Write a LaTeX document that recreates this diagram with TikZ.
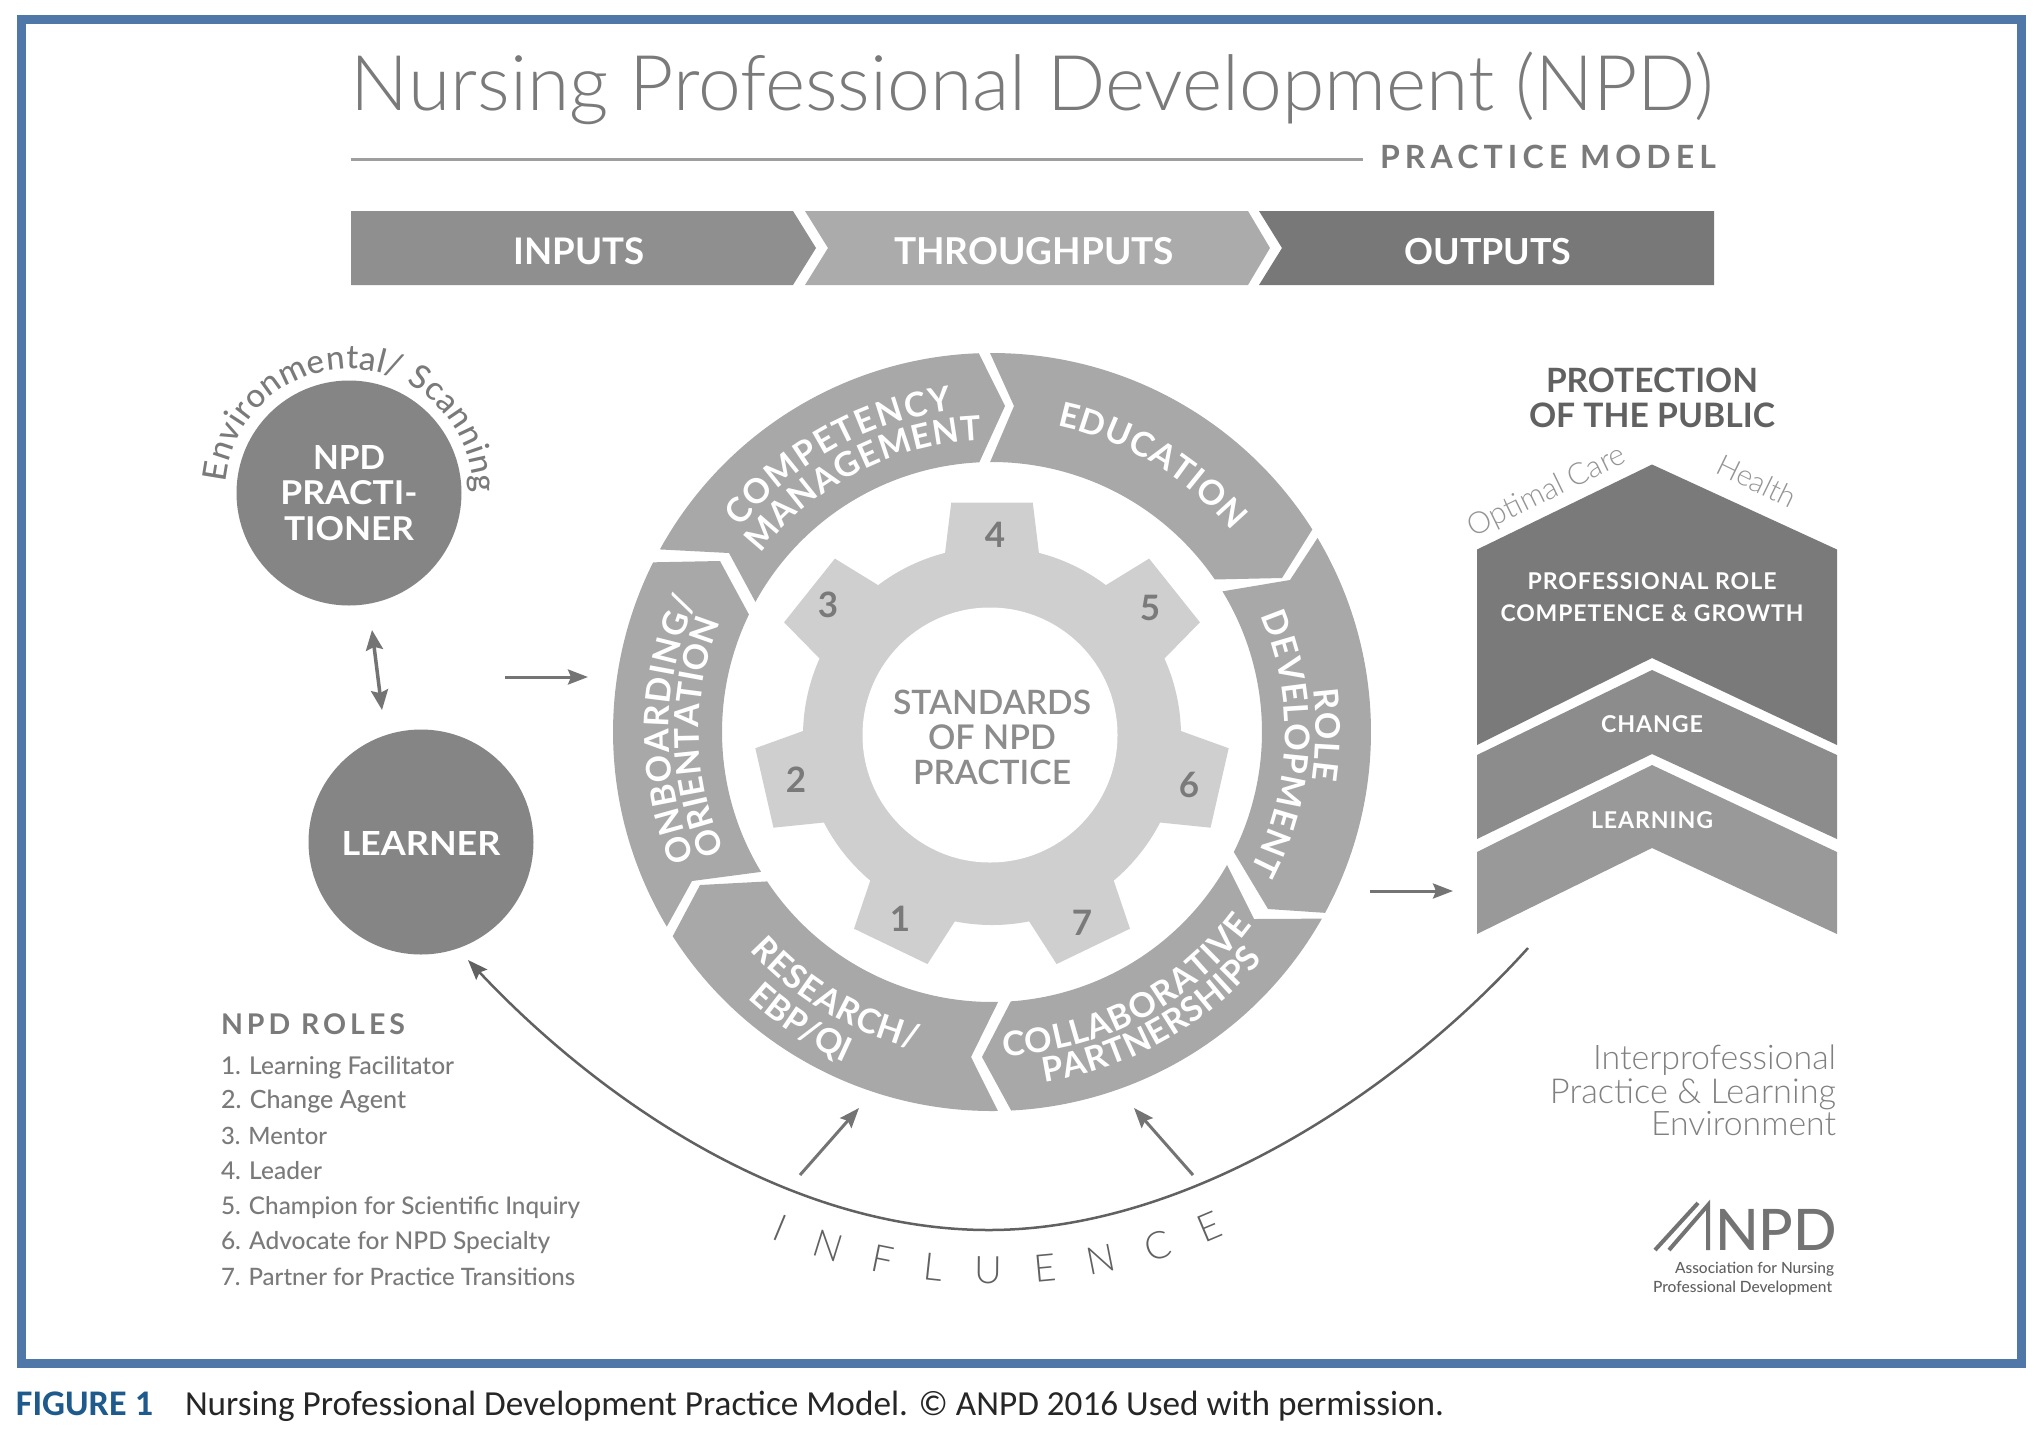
\documentclass[tikz,border=0pt]{standalone}
\usepackage{fontspec}
\usepackage{graphicx}
\usetikzlibrary{calc,arrows.meta,decorations.text}
\setmainfont{Lato}
\IfFontExistsTF{Lato Light}{\newfontfamily\lfl{Lato Light}}{\newfontfamily\lfl{Lato}}
\IfFontExistsTF{Lato Medium}{\newfontfamily\lfm{Lato Medium}}{\newfontfamily\lfm{Lato}}
\IfFontExistsTF{Lato Semibold}{\newfontfamily\lfs{Lato Semibold}}{\newfontfamily\lfs{Lato}}
\newfontfamily\lfb{Lato Bold}
\newfontfamily\capf{Carlito}
\newcommand\fsz[1]{\fontsize{#1}{#1}\selectfont}
\newcommand\fw[2]{\resizebox{#1pt}{!}{#2}}
\newcommand\fwh[3]{\resizebox{#1pt}{#2pt}{#3}}
\definecolor{bluebd}{HTML}{4F78A9}
\definecolor{ringc}{HTML}{A8A8A8}
\definecolor{gearc}{HTML}{CFCFCF}
\definecolor{txtg}{HTML}{7A7A7A}
\definecolor{arrg}{HTML}{747474}
\definecolor{figblue}{HTML}{1E5A8C}
\tikzset{
 lbl/.style={inner sep=0pt,outer sep=0pt,anchor=base},
 wlbl/.style={lbl,text=white},
 glbl/.style={lbl,text=txtg},
 ringseg/.style={fill=ringc,draw=none},
 roundn/.style={circle,fill=#1,draw=none,minimum size=225pt,inner sep=0pt},
 arw/.style={draw=arrg,line width=3pt,-{Stealth[length=20pt,width=15pt,inset=3pt]}},
 bothw/.style={draw=arrg,line width=3.5pt,{Stealth[length=20pt,width=17pt,inset=3pt]}-{Stealth[length=20pt,width=17pt,inset=3pt]}},
 curvet/.style={decorate,decoration={text along path,text={#1},text align={fit to path}}},
}
\newcommand\seg[6]{\fill[ringseg] ($(C)+(#1:379pt)$) arc[start angle=#1,end angle=#2,radius=379pt] -- (#3) -- ($(C)+(#4:270pt)$) arc[start angle=#4,end angle=#5,radius=270pt] -- (#6) -- cycle;}
\newcommand\rtxt[4]{\path[curvet={|\lfb\fsz{34}\color{white}|#4}] ($(C)+(#1:#3pt)$) arc[start angle=#1,end angle=#2,radius=#3pt];}
\begin{document}
\begin{tikzpicture}[x=1pt,y=-1pt]
\useasboundingbox (0,0) rectangle (2040,1436);
\fill[white] (0,0) rectangle (2040,1436);
\draw[bluebd,line width=9pt] (21,19.5) rectangle (2021,1363.5);
% title
\node[glbl,text=black!52] (title) at (1032.5,110) {\fw{1363}{\lfl\fsz{76}Nursing Professional Development (NPD)}};
\coordinate (ruleA) at (351,159); \coordinate (ruleB) at (1363,159);
\draw[black!38,line width=3pt] (ruleA) -- (ruleB);
\node[glbl] (pm) at (1548,168) {\fw{336}{\lfb\fsz{30}\addfontfeature{LetterSpace=16}PRACTICE MODEL}};
% band
\fill[black!44] (351,211) -- (793,211) -- (816,248) -- (793,285) -- (351,285) -- cycle;
\fill[black!33] (805,211) -- (1248,211) -- (1270,248) -- (1248,285) -- (805,285) -- (828,248) -- cycle;
\fill[black!53] (1259,211) -- (1714,211) -- (1714,285) -- (1259,285) -- (1282,248) -- cycle;
\node[wlbl] (inp) at (579,264) {\fw{131}{\lfb\fsz{34}INPUTS}};
\node[wlbl] (thr) at (1034,264) {\fw{280}{\lfb\fsz{34}THROUGHPUTS}};
\node[wlbl] (out) at (1488,264) {\fw{167}{\lfb\fsz{34}OUTPUTS}};
% circles
\node[roundn=black!48] (npd) at (349,493) {};
\node[roundn=black!48] (lrn) at (421,842) {};
\node[wlbl] (n1) at (349,469) {\fwh{72}{24}{\lfb\fsz{32}NPD}};
\node[wlbl] (n2) at (349,504) {\fwh{137}{24}{\lfb\fsz{32}PRACTI-}};
\node[wlbl] (n3) at (349,540) {\fwh{130}{24}{\lfb\fsz{32}TIONER}};
\node[wlbl] (l1) at (421,855) {\fwh{159}{24}{\lfb\fsz{32}LEARNER}};
\path[curvet={|\lfm\fsz{33}\color{txtg}|Environmental/ Scanning}] ($(npd.center)+(175:124pt)$) arc[start angle=175,end angle=0,radius=124pt];
\coordinate (dA) at (372,630); \coordinate (dB) at (382,710);
\draw[bothw] (dA) -- (dB);
\coordinate (iA) at (505,677); \coordinate (iB) at (588,677);
\draw[arw] (iA) -- (iB);
\coordinate (oA) at (1370,891); \coordinate (oB) at (1453,891);
\draw[arw] (oA) -- (oB);
% ring
\coordinate (C) at (992,732);
\seg{151.2}{92}{1005,406}{92.7}{151.2}{729,553}
\seg{90.3}{32.3}{1282,578}{34.4}{90.4}{1014,406}
\seg{30.8}{-28.5}{1268,909}{-26.4}{31.4}{1290,580}
\seg{-29.5}{-87.1}{982,1057}{-86}{-29.5}{1254,919}
\seg{-89.1}{-147.4}{700,885}{-146.4}{-88.7}{971,1057}
\seg{-149.1}{-206.6}{720,561}{-205.8}{-148.8}{692,881}
\rtxt{141}{97}{324}{COMPETENCY}
\rtxt{142.5}{92}{292}{MANAGEMENT}
\rtxt{78}{40}{313}{EDUCATION}
\rtxt{203}{156}{323}{ONBOARDING/}
\rtxt{204}{158}{293}{ORIENTATION}
\rtxt{7.5}{-8.5}{324}{ROLE}
\rtxt{23.5}{-28}{293}{DEVELOPMENT}
\rtxt{-138}{-103.5}{326}{RESEARCH/}
\rtxt{-132.5}{-114}{362}{EBP/QI}
\rtxt{-88}{-36.5}{324}{COLLABORATIVE}
\rtxt{-81.5}{-40}{354}{PARTNERSHIPS}
% gear
\coordinate (G) at (992,736);
\fill[gearc] (G) circle[radius=189pt];
\foreach \a in {90,38.57,-12.86,-64.29,-115.71,192.86,141.43}{
  \fill[gearc] ($(G)+(\a+14.5:188pt)$) -- ($(G)+(\a+9.9:237pt)$) -- ($(G)+(\a-9.9:237pt)$) -- ($(G)+(\a-14.5:188pt)$) -- cycle;
}
\fill[white] (990,735) circle[radius=127.5pt];
\foreach \n/\x/\y in {4/995/535,5/1150/608,6/1189/785,7/1082/923,1/900/919,2/796/780,3/828/605}{
  \node[inner sep=0pt,text=black!52,font=\lfb\fsz{35}] (g\n) at (\x,\y) {\n};
}
\node[glbl,text=black!45] (s1) at (992,714) {\fw{198}{\lfs\fsz{32}STANDARDS}};
\node[glbl,text=black!45] (s2) at (992,749) {\fw{128}{\lfs\fsz{32}OF NPD}};
\node[glbl,text=black!45] (s3) at (992,784) {\fw{158}{\lfs\fsz{32}PRACTICE}};
% chevrons
\fill[black!52] (1477,549.5) -- (1652,464.5) -- (1837,549.5) -- (1837,745) -- (1652,658) -- (1477,745) -- cycle;
\fill[black!45] (1477,755) -- (1652,670) -- (1837,755) -- (1837,839) -- (1652,754) -- (1477,839) -- cycle;
\fill[black!40] (1477,852) -- (1652,765) -- (1837,852) -- (1837,934) -- (1652,848) -- (1477,934) -- cycle;
\node[glbl,text=black!62] (p1) at (1652,392) {\fw{212}{\lfb\fsz{34}PROTECTION}};
\node[glbl,text=black!62] (p2) at (1652,427) {\fw{246}{\lfb\fsz{34}OF THE PUBLIC}};
\node[wlbl] (c1) at (1652,589) {\fw{249}{\lfb\fsz{24}\addfontfeature{LetterSpace=4}PROFESSIONAL ROLE}};
\node[wlbl] (c2) at (1652,621) {\fw{303}{\lfb\fsz{24}\addfontfeature{LetterSpace=4}COMPETENCE \& GROWTH}};
\node[wlbl] (c3) at (1652,732) {\fw{102}{\lfb\fsz{24}\addfontfeature{LetterSpace=4}CHANGE}};
\node[wlbl] (c4) at (1652,828) {\fw{122}{\lfb\fsz{24}\addfontfeature{LetterSpace=4}LEARNING}};
\node[inner sep=0pt,text=black!42,rotate=26] (oc) at (1547,492) {\fw{172}{\lfl\fsz{32}Optimal Care}};
\node[inner sep=0pt,text=black!42,rotate=-26] (he) at (1757,481) {\fw{84}{\lfl\fsz{32}Health}};
% big curve
\coordinate (cR) at (1528,948); \coordinate (cM) at (989,1230); \coordinate (cL) at (468,960);
\draw[arw,draw=black!62,line width=2.5pt] (cR) .. controls (1400,1090) and (1190,1230) .. (cM) .. controls (780,1230) and (590,1090) .. (cL);
\coordinate (aA) at (800,1175); \coordinate (aB) at (859,1108);
\coordinate (bA) at (1193,1175); \coordinate (bB) at (1134,1108);
\draw[arw] (aA) -- (aB);
\draw[arw] (bA) -- (bB);
\coordinate (I) at (993,714);
\path[curvet={|\lfl\fsz{38}\color{black!62}|INFLUENCE}] ($(I)+(-113:570pt)$) arc[start angle=-113,end angle=-66,radius=570pt];
% roles
\node[glbl,anchor=base west] (r0) at (221,1034) {\fw{184}{\lfb\fsz{27}\addfontfeature{LetterSpace=14}NPD ROLES}};
\foreach \i/\y/\w/\t in {1/1074/233/1. Learning Facilitator,2/1108/185/2. Change Agent,3/1144/106/3. Mentor,4/1179/101/4. Leader,5/1214/359/5. Champion for Scientific Inquiry,6/1249/329/6. Advocate for NPD Specialty,7/1285/354/7. Partner for Practice Transitions}{
  \node[glbl,anchor=base west] (r\i) at (221,\y) {\fw{\w}{\lfm\fsz{27}\t}};
}
% interprofessional
\node[glbl,anchor=base east,text=black!50] (e1) at (1836,1069) {\fw{243}{\lfl\fsz{36}Interprofessional}};
\node[glbl,anchor=base east,text=black!50] (e2) at (1836,1103) {\fw{286}{\lfl\fsz{36}Practice \& Learning}};
\node[glbl,anchor=base east,text=black!50] (e3) at (1836,1135) {\fw{185}{\lfl\fsz{36}Environment}};
% logo
\draw[black!55,line width=4pt,line cap=butt] (1655,1250) -- (1698,1203) (1669,1250) -- (1708,1205) -- (1708,1250);
\node[glbl,anchor=base east,text=black!55] (lg) at (1837,1250) {\fw{122}{\lfm\fsz{64}NPD}};
\node[glbl,anchor=base east,text=black!62] (lg1) at (1834,1273) {\fw{159}{\lfm\fsz{16}Association for Nursing}};
\node[glbl,anchor=base east,text=black!62] (lg2) at (1832,1292) {\fw{179}{\lfm\fsz{16}Professional Development}};
% caption
\node[lbl,anchor=base west,text=figblue] (fg) at (16,1415) {\fw{137}{\capf\bfseries\fsz{30}FIGURE 1}};
\node[lbl,anchor=base west,text=black!85] (fc) at (185,1415) {\fw{1259}{\capf\fsz{30}Nursing Professional Development Practice Model. © ANPD 2016 Used with permission.}};
\end{tikzpicture}
\end{document}
